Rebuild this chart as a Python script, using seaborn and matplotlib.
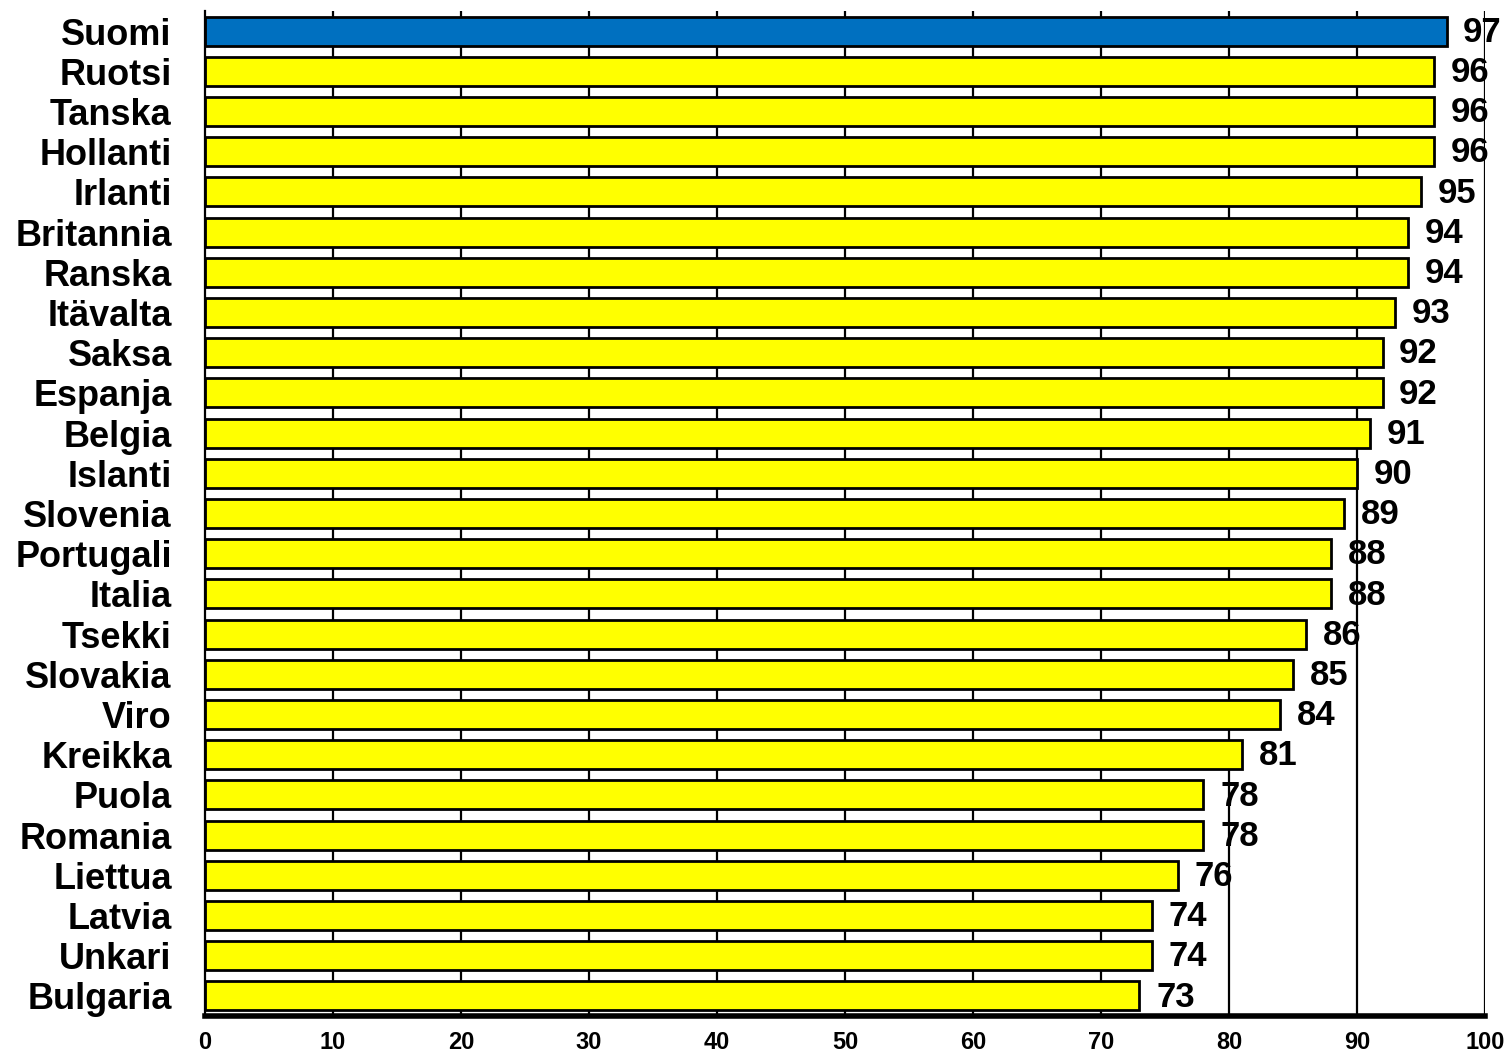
import matplotlib
matplotlib.use("Agg")
import matplotlib.pyplot as plt
import seaborn as sns
import pandas as pd

countries = ["Suomi", "Ruotsi", "Tanska", "Hollanti", "Irlanti", "Britannia", "Ranska",
             "Itävalta", "Saksa", "Espanja", "Belgia", "Islanti", "Slovenia", "Portugali",
             "Italia", "Tsekki", "Slovakia", "Viro", "Kreikka", "Puola", "Romania",
             "Liettua", "Latvia", "Unkari", "Bulgaria"]
values = [97, 96, 96, 96, 95, 94, 94, 93, 92, 92, 91, 90, 89, 88, 88, 86, 85, 84, 81,
          78, 78, 76, 74, 74, 73]
x_ticks = [0, 10, 20, 30, 40, 50, 60, 70, 80, 90, 100]

sns.set_theme(style="white")
plt.rcParams["font.family"] = ["Liberation Sans", "DejaVu Sans"]

df = pd.DataFrame({"maa": countries, "arvo": values})
colors = ["#0070C0"] + ["#FFFF00"] * (len(countries) - 1)

fig = plt.figure(figsize=(15.12, 10.59), dpi=100)
ax = fig.add_axes([205 / 1512, 43 / 1059, 1280 / 1512, 1005 / 1059])

# vertical grid lines behind the bars
for t in x_ticks[1:]:
    ax.axvline(t, color="black", lw=1.6, zorder=0)

sns.barplot(data=df, y="maa", x="arvo", hue="maa", palette=colors, legend=False,
            orient="h", width=0.72, saturation=1, edgecolor="black", linewidth=2.0,
            ax=ax, zorder=2)

for i, v in enumerate(values):
    ax.text(v + 1.3, i + 0.03, f"{v}", va="center", ha="left", fontsize=25,
            fontweight="bold", color="black", zorder=3)

ax.set_xlim(0, 100)
ax.set_ylim(len(countries) - 0.5, -0.5)
ax.set_xticks(x_ticks)
ax.set_xticklabels([str(t) for t in x_ticks], fontsize=17, fontweight="bold")
ax.set_yticks(range(len(countries)))
ax.set_yticklabels(countries, fontsize=26, fontweight="bold")
ax.set_xlabel("")
ax.set_ylabel("")

for side in ["top", "right"]:
    ax.spines[side].set_visible(False)
ax.spines["left"].set_color("black")
ax.spines["left"].set_linewidth(1.6)
ax.spines["bottom"].set_color("black")
ax.spines["bottom"].set_linewidth(4)
ax.tick_params(axis="x", direction="out", length=4, width=3, color="black", pad=7)
ax.tick_params(axis="y", length=0, pad=24)
ax.tick_params(axis="both", colors="black")
for lab in ax.get_xticklabels() + ax.get_yticklabels():
    lab.set_color("black")

fig.savefig("out.png", dpi=100, facecolor="white")
